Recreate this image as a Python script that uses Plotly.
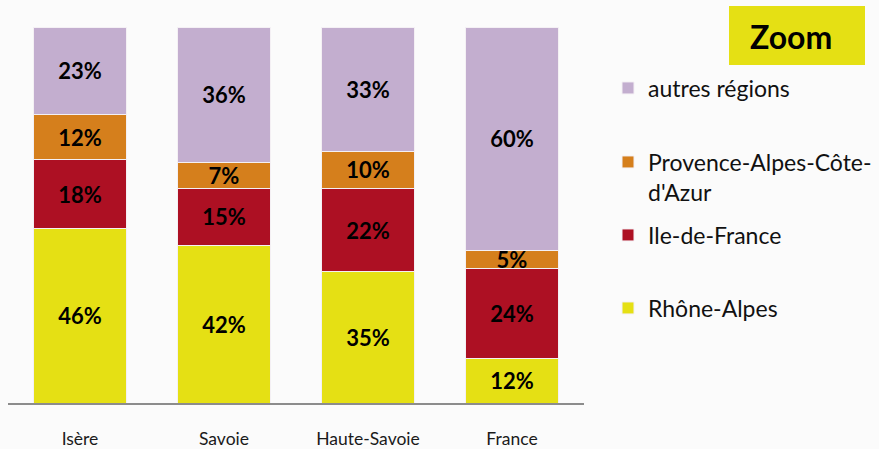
import plotly.graph_objects as go

categories = ["Isère", "Savoie", "Haute-Savoie", "France"]
rhone_alpes = [46, 42, 35, 12]
ile_de_france = [18, 15, 22, 24]
paca = [12, 7, 10, 5]
autres = [23, 36, 33, 60]

series = [
    ("Rhône-Alpes", rhone_alpes, "#e5e014", "legend4"),
    ("Ile-de-France", ile_de_france, "#ad1023", "legend3"),
    ("Provence-Alpes-Côte-<br>d'Azur", paca, "#d57f1c", "legend2"),
    ("autres régions", autres, "#c3aecf", "legend"),
]

W, H = 879, 449
FONT = "Lato"

fig = go.Figure()
for name, vals, color, leg in series:
    fig.add_trace(go.Bar(
        x=categories, y=vals, name=name, legend=leg,
        marker=dict(color=color, line=dict(color="#f4f0f4", width=1)),
        text=[f"{v}%" for v in vals], textposition="inside",
        insidetextanchor="middle", textangle=0,
        textfont=dict(family=FONT, size=22, color="#000000", weight="bold"),
    ))

def legend_at(y_px, valign="middle"):
    return dict(
        xref="container", yref="container",
        x=608 / W, y=1 - y_px / H, xanchor="left", yanchor="middle",
        bgcolor="rgba(0,0,0,0)", borderwidth=0, valign=valign,
        font=dict(family=FONT, size=23, color="#111111"),
    )

fig.update_layout(
    width=W, height=H,
    margin=dict(l=8, r=W - 584, t=27, b=46),
    paper_bgcolor="#fbfbfb", plot_bgcolor="#fbfbfb",
    barmode="stack", barnorm="percent", bargap=0.354,
    uniformtext=dict(minsize=22, mode="show"),
    showlegend=True,
    legend=legend_at(88),
    legend2=legend_at(177, "top"),
    legend3=legend_at(235),
    legend4=legend_at(308),
    xaxis=dict(
        automargin=False,
        showline=True, linecolor="#8c8c8c", linewidth=2,
        ticks="", ticklabelstandoff=19,
        tickfont=dict(family=FONT, size=17.5, color="#1a1a1a"),
        showgrid=False, zeroline=False,
    ),
    yaxis=dict(range=[0, 100], visible=False, showgrid=False, zeroline=False,
               automargin=False),
    shapes=[dict(
        type="rect", xref="paper", yref="paper",
        x0=(729 - 8) / 576, x1=(865 - 8) / 576,
        y0=(403 - 65) / 376, y1=(403 - 6) / 376,
        fillcolor="#e5e014", line=dict(width=0),
    )],
    annotations=[dict(
        text="Zoom", xref="paper", yref="paper",
        x=(791 - 8) / 576, y=(403 - 36) / 376,
        showarrow=False, xanchor="center", yanchor="middle",
        font=dict(family=FONT, size=32, color="#000000", weight="bold"),
    )],
)

fig.write_html("out.html")
